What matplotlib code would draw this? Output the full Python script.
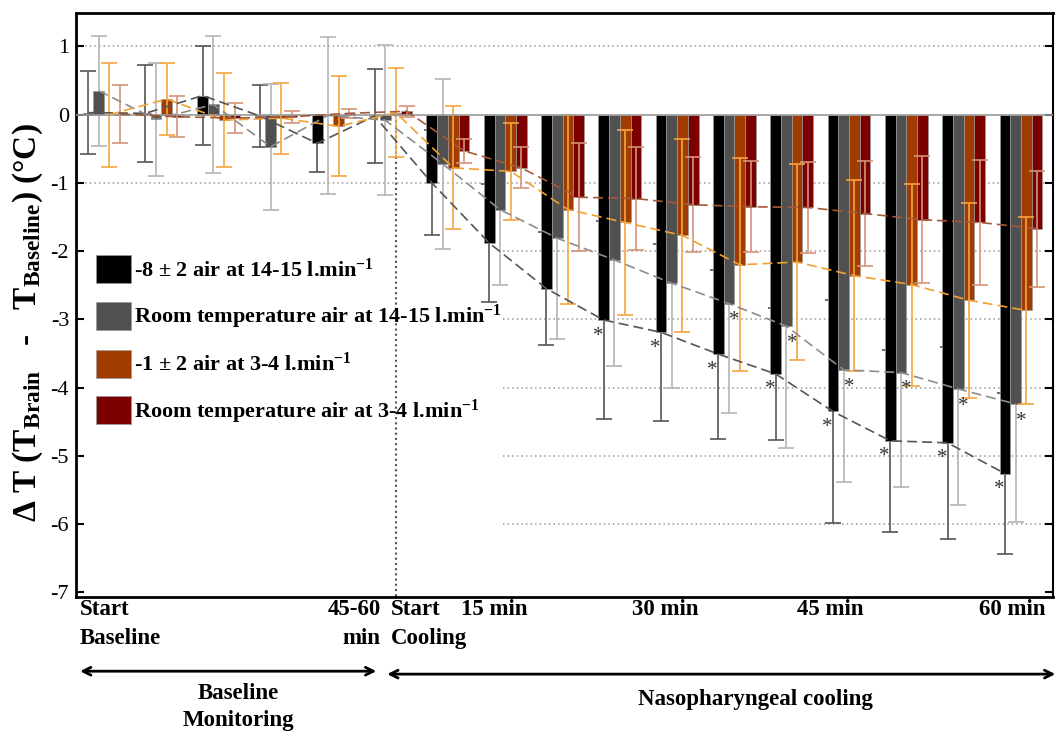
import matplotlib
matplotlib.use("Agg")
import matplotlib.pyplot as plt
import matplotlib.transforms as mtransforms
import numpy as np

plt.rcParams['font.family'] = ['Liberation Serif', 'DejaVu Serif']
plt.rcParams['mathtext.fontset'] = 'custom'
plt.rcParams['mathtext.rm'] = 'Liberation Serif:bold'
plt.rcParams['mathtext.bf'] = 'Liberation Serif:bold'
plt.rcParams['mathtext.it'] = 'Liberation Serif:bold:italic'

# 6 baseline points + 11 cooling points
n_groups = 17

series_labels = [
    "-8 \u00b1 2 air at 14-15 l.min$^{-1}$",
    "Room temperature air at 14-15 l.min$^{-1}$",
    "-1 \u00b1 2 air at 3-4 l.min$^{-1}$",
    "Room temperature air at 3-4 l.min$^{-1}$",
]

black_mean = [0.03, 0.02, 0.28, -0.02, -0.42, -0.02, -1.00, -1.88, -2.55, -3.01, -3.19, -3.51, -3.80, -4.35, -4.78, -4.81, -5.26]
black_sd = [0.61, 0.71, 0.72, 0.45, 0.42, 0.69, 0.77, 0.86, 0.83, 1.45, 1.30, 1.24, 0.97, 1.63, 1.33, 1.41, 1.18]

gray_mean = [0.35, -0.07, 0.15, -0.47, -0.01, -0.08, -0.72, -1.39, -1.81, -2.13, -2.47, -2.77, -3.10, -3.74, -3.78, -4.02, -4.24]
gray_sd = [0.81, 0.83, 1.00, 0.92, 1.15, 1.10, 1.25, 1.10, 1.48, 1.55, 1.53, 1.60, 1.79, 1.65, 1.67, 1.70, 1.73]

orange_mean = [0.00, 0.23, -0.08, -0.05, -0.17, 0.03, -0.78, -0.83, -1.39, -1.58, -1.77, -2.20, -2.16, -2.36, -2.49, -2.72, -2.87]
orange_sd = [0.76, 0.53, 0.69, 0.52, 0.73, 0.65, 0.90, 0.71, 1.38, 1.35, 1.42, 1.56, 1.44, 1.40, 1.48, 1.43, 1.37]

red_mean = [0.01, -0.03, -0.05, -0.03, 0.02, 0.05, -0.53, -0.78, -1.21, -1.23, -1.32, -1.35, -1.36, -1.45, -1.54, -1.58, -1.67]
red_sd = [0.43, 0.30, 0.22, 0.09, 0.07, 0.08, 0.18, 0.30, 0.79, 0.76, 0.70, 0.67, 0.67, 0.77, 0.93, 0.92, 0.85]

# significant points (group index)
black_sig = [9, 10, 11, 12, 13, 14, 15, 16]
gray_sig = [11, 12, 13, 14, 15, 16]

means = [black_mean, gray_mean, orange_mean, red_mean]
sds = [black_sd, gray_sd, orange_sd, red_sd]
bar_colors = ['#000000', '#505050', '#a03c00', '#7d0000']
err_colors = ['#555555', '#b4b4b4', '#f5a540', '#d49478']
line_colors = ['#555555', '#8c8c8c', '#f2a030', '#a8583a']

x = np.arange(n_groups)
width = 0.187
offsets = [-1.5 * width, -0.5 * width, 0.5 * width, 1.5 * width]

fig = plt.figure(figsize=(10.56, 7.40), dpi=100)
ax = fig.add_axes([0.072, 0.1932, 0.9252, 0.7892])

for i in range(4):
    xs = x + offsets[i]
    ax.bar(xs, means[i], width, color=bar_colors[i], edgecolor='#9a9a9a',
           linewidth=0.5, label=series_labels[i], zorder=2)
    ax.errorbar(xs, means[i], yerr=sds[i], fmt='none', ecolor=err_colors[i],
                elinewidth=1.2, capsize=6, capthick=1.2,
                zorder=1 if i < 2 else 3)
    ax.plot(xs, means[i], linestyle=(0, (6, 3)), color=line_colors[i],
            linewidth=1.2, zorder=4)

for g in black_sig:
    ax.text(g + offsets[0] - 0.1, black_mean[g] - 0.3, '*', ha='center',
            va='baseline', fontsize=15, color='#333333', zorder=5)
for g in gray_sig:
    ax.text(g + 0.0, gray_mean[g] - 0.32, '*', ha='center',
            va='baseline', fontsize=15, color='#333333', zorder=5)

ax.axhline(0, color='#999999', linewidth=1.2, zorder=3)
for yv in [1, -1]:
    ax.axhline(yv, color='#999999', linestyle=(0, (1, 2)), linewidth=1.1, zorder=0)
for yv in [-2, -3, -4, -5, -6]:
    ax.axhline(yv, xmin=0.437, color='#999999', linestyle=(0, (1, 2)), linewidth=1.1, zorder=0)
ax.plot([5.10, 5.10], [0, -7.07], color='#555555', linestyle=(0, (1, 1.5)),
        linewidth=1.5, zorder=1)

ax.set_xlim(-0.49, 16.56)
ax.set_ylim(-7.07, 1.49)
ax.set_yticks(range(1, -8, -1))
ax.set_yticklabels([str(v) for v in range(1, -8, -1)], fontsize=16)
ax.tick_params(axis='y', direction='in', length=6, width=1.5, right=True, pad=5)
ax.set_xticks([])
for s in ['left', 'top', 'bottom']:
    ax.spines[s].set_linewidth(2)
ax.spines['right'].set_linewidth(1.5)

ax.set_ylabel("\u0394 T (T$_{\\mathrm{Brain}}$   -   T$_{\\mathrm{Baseline}}$) (\u00b0C)",
              fontsize=24, fontweight='bold', va='center')
ax.yaxis.set_label_coords(-0.049, 0.47)

leg = ax.legend(loc='upper left', bbox_to_anchor=(0.009, 0.604), frameon=False,
                borderpad=0, handlelength=1.6, handleheight=1.55,
                handletextpad=0.1, labelspacing=0.84,
                prop={'weight': 'bold', 'size': 16})

# labels under the axis
trans = mtransforms.blended_transform_factory(ax.transData, ax.transAxes)
lab_kw = dict(transform=trans, fontsize=16.5, fontweight='bold', va='top',
              linespacing=1.45)
ax.text(-0.42, -0.004, "Start\nBaseline", ha='left', **lab_kw)
ax.text(4.83, -0.004, "45-60\nmin", ha='right', multialignment='right', **lab_kw)
ax.text(5.01, -0.004, "Start\nCooling", ha='left', **lab_kw)
for xp, lab in [(6.81, "15 min"), (9.79, "30 min"), (12.67, "45 min"), (15.85, "60 min")]:
    ax.text(xp, -0.004, lab, ha='center', **lab_kw)

arrow_kw = dict(arrowstyle='<->', color='black', lw=2, mutation_scale=14,
                shrinkA=0, shrinkB=0)
ax.annotate('', xy=(4.75, -0.127), xytext=(-0.42, -0.127), xycoords=trans,
            textcoords=trans, arrowprops=arrow_kw, annotation_clip=False)
ax.annotate('', xy=(16.6, -0.132), xytext=(4.94, -0.132), xycoords=trans,
            textcoords=trans, arrowprops=arrow_kw, annotation_clip=False)
ax.text(2.34, -0.147, "Baseline\nMonitoring", ha='center', va='top',
        transform=trans, fontsize=16.5, fontweight='bold', linespacing=1.4)
ax.text(11.36, -0.176, "Nasopharyngeal cooling", ha='center', va='center',
        transform=trans, fontsize=16.5, fontweight='bold')

fig.savefig('out.png', dpi=100)
